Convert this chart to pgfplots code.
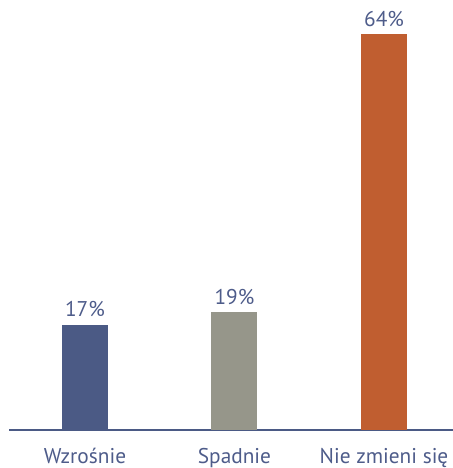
\documentclass[border=0pt]{standalone}
\usepackage{pgfplots}
\pgfplotsset{compat=1.18}
\usepackage{fontspec}
\setmainfont{PT Sans}
\definecolor{barblue}{RGB}{75,90,133}
\definecolor{bargray}{RGB}{150,150,138}
\definecolor{barorange}{RGB}{192,94,48}
\definecolor{txtblue}{RGB}{78,92,138}
\begin{document}
\begin{tikzpicture}
\begin{axis}[
    scale only axis,
    width=333pt, height=320.2pt,
    at={(0,0)}, anchor=south west,
    xmin=-0.508, xmax=2.4615,
    ymin=0, ymax=69,
    axis x line*=bottom,
    axis y line=none,
    ytick=\empty,
    x axis line style={draw=barblue, line width=0.9pt, -},
    xtick={0,1,2},
    xticklabels={Wzrośnie,Spadnie,Nie zmieni się},
    major tick length=0pt,
    xticklabel style={anchor=base, yshift=-25.5pt, inner sep=0pt,
        font=\fontsize{16}{18}\selectfont, text=txtblue},
    ybar, bar width=34.5pt, bar shift=0pt,
    /pgf/number format/assume math mode=true,
    nodes near coords={\pgfmathprintnumber{\pgfplotspointmeta}\%},
    every node near coord/.append style={anchor=base, yshift=6pt, inner sep=0pt,
        font=\fontsize{16}{18}\selectfont, text=txtblue},
    clip=false,
]
\addplot[fill=barblue, draw=none] coordinates {(0,17)};
\addplot[fill=bargray, draw=none] coordinates {(1,19)};
\addplot[fill=barorange, draw=none] coordinates {(2,64)};
\end{axis}
\pgfresetboundingbox
\path (-6.75pt,-28.5pt) rectangle (333pt,322.5pt);
\end{tikzpicture}
\end{document}
